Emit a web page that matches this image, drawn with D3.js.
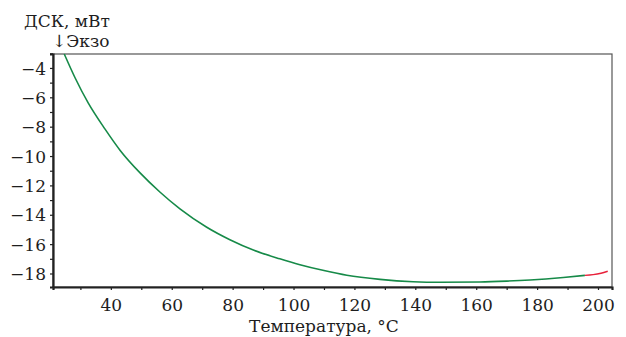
<!DOCTYPE html>
<html><head><meta charset="utf-8">
<script src="https://cdn.jsdelivr.net/npm/d3@7"></script>
<style>body{margin:0;background:#fff}svg{display:block}text{font-family:"DejaVu Serif",serif;fill:#1e1e1e}</style>
</head><body><svg id="c" width="626" height="337"></svg>
<script>
const tempGreen = [24.7, 28.2, 32.6, 38.1, 43.0, 49.6, 56.1, 62.7, 71.5, 79.1, 87, 95.5, 102.1, 110, 117.5, 128.4, 139.3, 148.1, 161.2, 170, 177.7, 188.6, 195.7];
const dscGreen  = [-3.05, -4.65, -6.4, -8.17, -9.6, -11.15, -12.45, -13.6, -14.85, -15.7, -16.42, -17.0, -17.4, -17.8, -18.12, -18.4, -18.56, -18.6, -18.58, -18.52, -18.44, -18.27, -18.13];
const tempRed = [195.7, 198.4, 201, 203.2];
const dscRed  = [-18.13, -18.08, -17.98, -17.85];
const xTicks = [40, 60, 80, 100, 120, 140, 160, 180, 200];
const yTicks = [-4, -6, -8, -10, -12, -14, -16, -18];
const xLabel = "Температура, °C";
const yLabel1 = "ДСК, мВт";
const yLabel2 = "↓Экзо";

const svg = d3.select("#c");
const L = 53, R = 612, T = 54, B = 287;
const x = d3.scaleLinear().domain([21, 204.6]).range([L, R]);
const y = d3.scaleLinear().domain([-18.92, -3.05]).range([B, T]);

svg.append("rect").attr("x", L).attr("y", T).attr("width", R - L).attr("height", B - T)
  .attr("fill", "none").attr("stroke", "#555").attr("stroke-width", 1.2);

const fmt = d => d < 0 ? "\u2212" + Math.abs(d) : String(d);

const xAxis = svg.append("g").attr("transform", `translate(0,${B})`)
  .call(d3.axisBottom(x).tickValues(d3.range(30, 201, 10)).tickSize(3).tickFormat(d => xTicks.includes(d) ? fmt(d) : ""));
const yAxis = svg.append("g").attr("transform", `translate(${L},0)`)
  .call(d3.axisLeft(y).tickValues(d3.range(-18, -2, 1)).tickSize(3).tickFormat(d => yTicks.includes(d) ? fmt(d) : ""));
[xAxis, yAxis].forEach(g => {
  g.select(".domain").attr("stroke", "#222").attr("stroke-width", 2.2);
  g.selectAll(".tick line").attr("stroke", "#222").attr("stroke-width", 1.2);
  g.selectAll("text").style("font-family", '"DejaVu Serif",serif').attr("font-size", 17).attr("fill", "#1e1e1e");
});
xAxis.selectAll("text").attr("dy", "1.05em");
yAxis.selectAll("text").attr("x", -7).attr("dy", "0.36em");

const line = d3.line().x(d => x(d[0])).y(d => y(d[1])).curve(d3.curveMonotoneX);
svg.append("path").datum(tempGreen.map((t, i) => [t, dscGreen[i]]))
  .attr("d", line).attr("fill", "none").attr("stroke", "#168a48").attr("stroke-width", 1.6);
svg.append("path").datum(tempRed.map((t, i) => [t, dscRed[i]]))
  .attr("d", line).attr("fill", "none").attr("stroke", "#e8203a").attr("stroke-width", 1.4);

svg.append("text").attr("x", 324).attr("y", 332).attr("text-anchor", "middle").attr("font-size", 17).text(xLabel);
svg.append("text").attr("x", 24).attr("y", 27).attr("font-size", 17).text(yLabel1);
svg.append("text").attr("x", 52).attr("y", 47).attr("font-size", 17).text(yLabel2);
</script></body></html>
